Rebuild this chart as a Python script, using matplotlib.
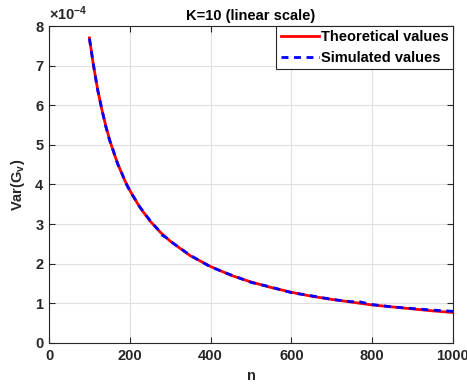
import matplotlib
matplotlib.use("Agg")
import matplotlib.pyplot as plt
from matplotlib.ticker import FuncFormatter

plt.rcParams['font.family'] = ['Liberation Sans', 'DejaVu Sans']
plt.rcParams['mathtext.fontset'] = 'custom'
plt.rcParams['mathtext.rm'] = 'Liberation Sans:bold'
plt.rcParams['mathtext.it'] = 'Liberation Sans:bold'
plt.rcParams['mathtext.bf'] = 'Liberation Sans:bold'

n_theory = [100, 110, 120, 130, 140, 150, 160, 170, 180, 190, 200, 225, 250,
            275, 300, 350, 400, 450, 500, 550, 600, 650, 700, 750, 800, 850,
            900, 950, 1000]
var_theory = [7.70e-4, 7.00e-4, 6.42e-4, 5.92e-4, 5.50e-4, 5.13e-4, 4.81e-4,
              4.53e-4, 4.28e-4, 4.05e-4, 3.85e-4, 3.42e-4, 3.08e-4, 2.80e-4,
              2.57e-4, 2.20e-4, 1.93e-4, 1.71e-4, 1.54e-4, 1.40e-4, 1.28e-4,
              1.18e-4, 1.10e-4, 1.03e-4, 0.96e-4, 0.91e-4, 0.86e-4, 0.81e-4,
              0.77e-4]

n_sim = [100, 110, 120, 130, 140, 150, 160, 170, 180, 190, 200, 225, 250, 270,
         280, 290, 300, 350, 400, 450, 500, 550, 600, 650, 700, 750, 760, 800,
         850, 900, 950, 1000]
var_sim = [7.68e-4, 7.02e-4, 6.40e-4, 5.94e-4, 5.48e-4, 5.11e-4, 4.83e-4,
           4.51e-4, 4.29e-4, 4.04e-4, 3.84e-4, 3.43e-4, 3.09e-4, 2.86e-4,
           2.72e-4, 2.66e-4, 2.57e-4, 2.21e-4, 1.92e-4, 1.72e-4, 1.53e-4,
           1.41e-4, 1.27e-4, 1.19e-4, 1.10e-4, 1.04e-4, 1.06e-4, 0.97e-4,
           0.91e-4, 0.87e-4, 0.83e-4, 0.80e-4]

x_ticks = [0, 200, 400, 600, 800, 1000]
y_ticks = [0, 1e-4, 2e-4, 3e-4, 4e-4, 5e-4, 6e-4, 7e-4, 8e-4]

FS = 10.5

fig = plt.figure(figsize=(4.67, 3.91), dpi=100)
ax = fig.add_axes([0.105, 0.1228, 0.865, 0.8107])

ax.plot(n_theory, var_theory, color='#ff0000', lw=2, label='Theoretical values')
ax.plot(n_sim, var_sim, color='#0000ff', lw=2, ls=(0, (2.5, 2.0)), label='Simulated values')

ax.set_xlim(0, 1000)
ax.set_ylim(0, 8e-4)
ax.set_xticks(x_ticks)
ax.set_yticks(y_ticks)
ax.yaxis.set_major_formatter(FuncFormatter(lambda v, p: f"{v/1e-4:.0f}"))
ax.grid(True, color='#e0e0e0', lw=0.8)
ax.set_axisbelow(True)
ax.tick_params(direction='in', top=True, right=True, length=4, width=0.8,
               labelsize=FS, colors='#262626', pad=4)
for lab in ax.get_xticklabels() + ax.get_yticklabels():
    lab.set_fontweight('bold')
for s in ax.spines.values():
    s.set_color('#262626')
    s.set_linewidth(0.8)

ax.text(0.0, 1.01, r'$\times10^{-4}$', transform=ax.transAxes, fontsize=FS,
        color='#262626', ha='left', va='bottom')
ax.set_title('K=10 (linear scale)', fontsize=FS, fontweight='bold', pad=4)
ax.set_xlabel('n', fontsize=FS, fontweight='bold', color='#262626', labelpad=5)
ax.set_ylabel(r'Var(G$_{\rm v}$)', fontsize=FS, fontweight='bold', color='#262626', labelpad=6)

leg = ax.legend(loc='upper right', prop={'weight': 'bold', 'size': FS},
                frameon=True, fancybox=False, edgecolor='#262626', framealpha=1,
                borderpad=0.3, handlelength=2.6, handletextpad=0.15, labelspacing=0.45,
                borderaxespad=0.0)
leg.get_frame().set_linewidth(0.8)

fig.savefig('out.png', dpi=100)
